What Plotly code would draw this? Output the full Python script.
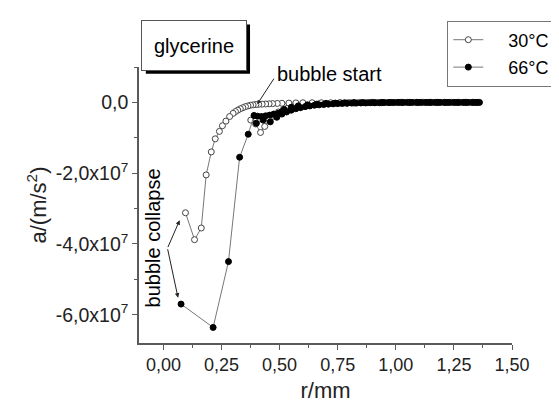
import numpy as np
import plotly.graph_objects as go

# ---- data (r in mm, a in units of 1e7 m/s^2, in time order) ----
r30 = [0.376, 0.397, 0.418, 0.436, 0.455, 0.475, 0.495, 0.515, 0.535, 0.56, 0.585,
       0.61, 0.64, 0.67, 0.70, 0.73, 0.76, 0.79, 0.82, 0.85, 0.88, 0.91, 0.94, 0.97,
       1.00, 1.03, 1.06, 1.09, 1.12, 1.15, 1.18, 1.21, 1.24, 1.27, 1.30, 1.33, 1.35,
       1.32, 1.28, 1.24, 1.20, 1.16, 1.12, 1.08, 1.04, 1.00, 0.96, 0.92, 0.88, 0.84,
       0.80, 0.76, 0.72, 0.68, 0.64, 0.60, 0.57, 0.54, 0.51, 0.49, 0.47, 0.455, 0.44,
       0.425, 0.41, 0.398, 0.386, 0.375, 0.364, 0.353, 0.342, 0.331, 0.32, 0.31, 0.30,
       0.285, 0.269, 0.254, 0.241, 0.223, 0.206, 0.184, 0.163, 0.134, 0.095]
a30_e7 = [-0.50, -0.61, -0.85, -0.68, -0.48, -0.36, -0.27, -0.21, -0.16, -0.12, -0.09,
          -0.07, -0.05, -0.04, -0.03, -0.03, -0.02, -0.02, -0.02, -0.01, -0.01, -0.01, -0.01, -0.005,
          -0.005, -0.005, 0.0, 0.0, 0.0, 0.0, 0.0, 0.0, 0.0, 0.0, 0.0, 0.0, 0.0,
          0.0, 0.0, 0.0, 0.0, 0.0, 0.0, 0.0, 0.0, 0.0, -0.005, -0.005, -0.005, -0.005,
          -0.005, -0.005, -0.01, -0.01, -0.01, -0.01, -0.015, -0.02, -0.025, -0.03, -0.035, -0.04, -0.045,
          -0.05, -0.055, -0.06, -0.07, -0.08, -0.10, -0.12, -0.15, -0.18, -0.22, -0.26, -0.31,
          -0.40, -0.53, -0.66, -0.82, -1.03, -1.40, -2.05, -3.55, -3.88, -3.12]

r66 = [0.400, 0.429, 0.460, 0.488, 0.51, 0.53, 0.55, 0.57, 0.59, 0.61, 0.63, 0.65,
       0.67, 0.69, 0.71, 0.73, 0.75, 0.77, 0.79, 0.81, 0.83, 0.85, 0.87, 0.89, 0.91,
       0.93, 0.95, 0.97, 0.99, 1.01, 1.03, 1.05, 1.07, 1.09, 1.11, 1.13, 1.15, 1.17,
       1.19, 1.21, 1.23, 1.25, 1.27, 1.29, 1.31, 1.33, 1.35, 1.36,
       1.34, 1.30, 1.26, 1.22, 1.18, 1.14, 1.10, 1.06, 1.02, 0.98, 0.94, 0.90, 0.86,
       0.82, 0.78, 0.74, 0.70, 0.66, 0.62, 0.58, 0.55, 0.52, 0.506, 0.494, 0.475,
       0.457, 0.44, 0.422, 0.405, 0.390, 0.365, 0.328, 0.280, 0.214, 0.076]
a66_e7 = [-0.59, -0.50, -0.55, -0.42, -0.33, -0.27, -0.22, -0.18, -0.15, -0.12, -0.10, -0.08,
          -0.07, -0.06, -0.05, -0.04, -0.035, -0.03, -0.025, -0.02, -0.02, -0.015, -0.015, -0.01, -0.01,
          -0.01, -0.005, -0.005, -0.005, 0.0, 0.0, 0.0, 0.0, 0.0, 0.0, 0.0, 0.0, 0.0,
          0.0, 0.0, 0.0, 0.0, 0.0, 0.0, 0.0, 0.0, 0.0, 0.0,
          0.0, 0.0, 0.0, 0.0, 0.0, 0.0, 0.0, 0.0, 0.0, 0.0, 0.0, 0.0, -0.005,
          -0.005, -0.01, -0.02, -0.03, -0.05, -0.07, -0.10, -0.14, -0.20, -0.28, -0.31, -0.33,
          -0.36, -0.38, -0.40, -0.39, -0.37, -0.90, -1.55, -4.50, -6.36, -5.70]

x_ticks = [0.0, 0.25, 0.5, 0.75, 1.0, 1.25, 1.5]
x_ticktext = ["0,00", "0,25", "0,50", "0,75", "1,00", "1,25", "1,50"]
y_ticks = [0.0, -2e7, -4e7, -6e7]
y_ticktext = ["0,0", "-2,0x10<sup>7</sup>", "-4,0x10<sup>7</sup>", "-6,0x10<sup>7</sup>"]

a30 = np.array(a30_e7) * 1e7
a66 = np.array(a66_e7) * 1e7

FONT = "Arial, Liberation Sans, sans-serif"
AX = "#5a5a5a"

fig = go.Figure()
fig.add_trace(go.Scatter(
    x=r30, y=a30, mode="lines+markers", name="\u00a0\u00a0\u00a0\u00a030°C",
    legendgroup="a",
    line=dict(color="#777777", width=1),
    marker=dict(symbol="circle", size=6, color="white", line=dict(color="#444444", width=1)),
))
fig.add_trace(go.Scatter(
    x=r66, y=a66, mode="lines+markers", name="\u00a0\u00a0\u00a0\u00a066°C",
    legendgroup="b",
    line=dict(color="#777777", width=1),
    marker=dict(symbol="circle", size=6, color="black", line=dict(color="black", width=1)),
))

# paper coordinates helpers for the plot area
L, R, T, B = 131, 45, 53, 65
W, H = 559, 403
pw, ph = W - L - R, H - T - B


def px(xp):
    return (xp - L) / pw


def py(yp):
    return (H - B - yp) / ph


# glycerine box shadow
fig.add_shape(type="rect", xref="paper", yref="paper",
              x0=px(138), x1=px(245), y0=py(60), y1=py(9),
              fillcolor="black", line=dict(width=0), layer="above")

annotations = [
    dict(text="glycerine", xref="paper", yref="paper", x=px(187.5), y=py(30.5),
         xanchor="center", yanchor="middle", showarrow=False,
         font=dict(family=FONT, size=20, color="black"),
         bgcolor="white", bordercolor="#555555", borderwidth=1,
         width=104, height=49, borderpad=0),
    dict(text="bubble start", xref="paper", yref="paper", x=px(271), y=py(60),
         xanchor="left", yanchor="middle", showarrow=False,
         font=dict(family=FONT, size=20, color="black")),
    dict(text="", x=0.404, y=-0.05e7, xref="x", yref="y", showarrow=True,
         ax=17.6, ay=-27, axref="pixel", ayref="pixel",
         arrowhead=2, arrowsize=0.8, arrowwidth=1, arrowcolor="#222222"),
    dict(text="bubble collapse", x=-0.045, y=-3.82e7, xref="x", yref="y",
         textangle=-90, showarrow=False, xanchor="center", yanchor="middle",
         font=dict(family=FONT, size=20, color="black")),
    dict(text="", x=0.070, y=-3.33e7, xref="x", yref="y", showarrow=True,
         ax=-12.4, ay=28.4, arrowhead=2, arrowsize=0.9, arrowwidth=1, arrowcolor="#222222"),
    dict(text="", x=0.063, y=-5.52e7, xref="x", yref="y", showarrow=True,
         ax=-10.7, ay=-50, arrowhead=2, arrowsize=0.9, arrowwidth=1, arrowcolor="#222222"),
]

fig.update_layout(
    width=W, height=H, autosize=False,
    margin=dict(l=L, r=R, t=T, b=B, pad=0),
    paper_bgcolor="white", plot_bgcolor="white",
    font=dict(family=FONT, size=18, color="#222222"),
    showlegend=True,
    legend=dict(x=px(558.5), y=py(5), xanchor="right", yanchor="top",
                bordercolor="#777777", borderwidth=1, bgcolor="white",
                font=dict(family=FONT, size=18, color="black"),
                traceorder="grouped", tracegroupgap=1),
    annotations=annotations,
    xaxis=dict(range=[-0.105, 1.5], tickvals=x_ticks, ticktext=x_ticktext,
               ticks="outside", ticklen=5, tickcolor=AX, tickwidth=1,
               showline=True, linecolor=AX, linewidth=1.5, showgrid=False, zeroline=False,
               minor=dict(dtick=0.125, tick0=0, ticks="outside", ticklen=3, tickcolor=AX, showgrid=False),
               tickfont=dict(family=FONT, size=18, color="#222222"),
               title=dict(text="r/mm", font=dict(family=FONT, size=22, color="#222222"), standoff=8)),
    yaxis=dict(range=[-6.8e7, 1.0e7], tickvals=y_ticks, ticktext=y_ticktext,
               ticks="outside", ticklen=5, tickcolor=AX, tickwidth=1,
               showline=True, linecolor=AX, linewidth=1.5, showgrid=False, zeroline=False,
               minor=dict(dtick=1e7, tick0=0, ticks="outside", ticklen=3, tickcolor=AX, showgrid=False),
               tickfont=dict(family=FONT, size=19.5, color="#222222"),
               title=dict(text="a/(m/s<sup>2</sup>)", font=dict(family=FONT, size=22, color="#222222"), standoff=3)),
)

fig.write_html("out.html")
